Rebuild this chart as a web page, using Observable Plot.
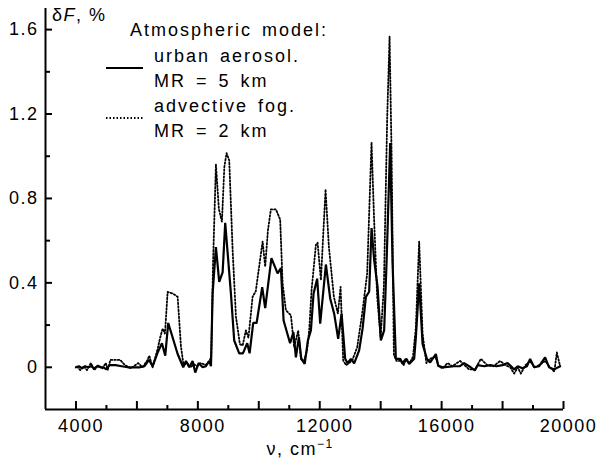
<!DOCTYPE html>
<html><head><meta charset="utf-8">
<script src="https://cdn.jsdelivr.net/npm/d3@7"></script>
<script src="https://cdn.jsdelivr.net/npm/@observablehq/plot@0.6"></script>
<style>
body{margin:0;background:#fff;}
#chart svg{display:block;overflow:visible;}
</style>
</head><body><div id="chart"></div>
<script>
// ---- data ----
const urbanNu = [4000,4100,4200,4300,4400,4500,4600,4700,4800,4900,5000,5100,5300,5500,5700,5900,6100,6250,6395,6516,6680,6822,6930,7028,7337,7520,7610,7717,7829,7914,8025,8157,8265,8373,8430,8485,8593,8701,8813,8898,9085,9193,9357,9479,9620,9698,9817,9928,10112,10210,10414,10617,10726,10814,11027,11136,11218,11316,11395,11506,11612,11710,11798,11916,12015,12202,12343,12474,12605,12717,12835,12914,13022,13130,13294,13406,13514,13622,13701,13786,13898,14006,14114,14203,14312,14390,14498,14640,14718,14827,14935,15099,15155,15263,15375,15516,15624,15811,15886,16031,16200,16400,16600,16740,16900,17090,17180,17400,17600,17800,18000,18163,18280,18380,18500,18650,18800,18905,19036,19200,19397,19528,19692,19889];
const urbanDeltaF = [0,0.005,-0.005,0.005,0,0.005,-0.005,0.005,0,0,-0.01,0.01,0.01,0.005,0,0,0,0.005,0.035,0.005,0.07,0.114,0.055,0.21,0.063,0,0.03,0,0.03,-0.025,0.02,0,0.005,0.03,0.005,0.35,0.57,0.405,0.45,0.684,0.35,0.127,0.066,0.066,0.114,0.066,0.21,0.21,0.38,0.28,0.517,0.445,0.47,0.222,0.114,0.167,0.047,0.143,0.04,0.016,0.127,0.175,0.35,0.42,0.207,0.487,0.326,0.254,0.135,0.254,0.04,0.019,0.04,0.019,0.08,0.183,0.334,0.358,0.66,0.509,0.381,0.127,0.175,0.54,1.063,0.493,0.04,0.04,0.019,0.04,0.016,0.04,0.143,0.398,0.111,0.04,0.023,0.063,0.008,0,0.002,0.005,0.005,0.02,0.005,-0.015,0.01,0.005,0.01,0.005,0.01,0.02,0.005,-0.01,0.005,-0.005,0.005,0.04,0,0.005,0.047,0,-0.01,0.005];

const fogNu = [4030,4140,4250,4360,4490,4600,4730,4870,4980,5040,5130,5300,5450,5610,5800,6045,6180,6330,6405,6516,6680,6767,6844,6920,7008,7170,7337,7445,7530,7650,7760,7870,7980,8100,8250,8380,8440,8500,8593,8690,8790,8870,8943,9030,9141,9250,9380,9470,9577,9660,9797,9900,10125,10210,10300,10397,10562,10702,10781,10890,11054,11162,11294,11382,11490,11580,11654,11732,11874,11930,12038,12191,12300,12464,12596,12684,12770,12868,12960,13065,13229,13393,13557,13700,13780,13885,13997,14105,14213,14292,14357,14433,14520,14650,14750,14850,14950,15060,15155,15263,15375,15500,15620,15800,15900,16030,16195,16350,16608,16750,16900,17100,17287,17500,17700,17920,18100,18250,18380,18500,18600,18750,18900,19050,19200,19400,19550,19700,19781,19889];
const fogDeltaF = [0.003,-0.013,0.005,-0.013,0.02,-0.013,0.01,-0.005,0.02,-0.013,0.035,0.035,0.035,0.01,-0.005,0.02,0,0.03,0.055,0,0.087,0.143,0.183,0.16,0.357,0.35,0.334,0.1,0.01,0.02,0,0.015,0.005,0.02,0.01,0.03,0.05,0.5,0.962,0.75,0.69,0.95,1.015,0.98,0.557,0.24,0.11,0.103,0.175,0.14,0.334,0.36,0.596,0.477,0.65,0.748,0.748,0.70,0.398,0.27,0.246,0.095,0.175,0.04,0.032,0.08,0.175,0.366,0.58,0.59,0.413,0.843,0.572,0.334,0.254,0.381,0.032,0.01,0.02,0.032,0.095,0.254,0.445,1.066,0.716,0.334,0.143,0.38,1.177,1.567,1.018,0.06,0.03,0.03,0.01,0.04,0.02,0.05,0.19,0.596,0.16,0.02,0.04,0.05,0.005,-0.005,0.02,0.005,0.03,0.01,-0.01,-0.01,0.04,0.01,0.005,0.03,0.01,0,-0.03,0,-0.03,0.01,0.03,0,0.01,0.03,0,-0.02,0.07,0.005];

const xLabelTicks = [4000, 8000, 12000, 16000, 20000];
const xMajorTicks = [4000, 6000, 8000, 10000, 12000, 14000, 16000, 18000, 20000];
const xMinorTicks = [5000, 7000, 9000, 11000, 13000, 15000, 17000, 19000];
const yLabelTicks = [0, 0.4, 0.8, 1.2, 1.6];
const yMinorTicks = [0.2, 0.6, 1.0, 1.4];
const xDomain = [3000, 20000];
const yDomain = [-0.2, 1.7];

const legendTitle = "Atmospheric model:";
const legendSeries = [
  {lines: ["urban aerosol.", "MR = 5 km"], dash: null, width: 2.2},
  {lines: ["advective fog.", "MR = 2 km"], dash: "1.5,2", width: 1.8}
];

// ---- layout ----
const W = 600, H = 465, mL = 45, mR = 37, mT = 8, mB = 56;
const frameW = W - mL - mR, frameH = H - mT - mB;
const font = "'Liberation Sans', Arial, Helvetica, sans-serif";

const urban = urbanNu.map((v, i) => ({nu: v, dF: urbanDeltaF[i]}));
const fog = fogNu.map((v, i) => ({nu: v, dF: fogDeltaF[i]}));

const plot = Plot.plot({
  width: W, height: H,
  marginLeft: mL, marginRight: mR, marginTop: mT, marginBottom: mB,
  x: {domain: xDomain},
  y: {domain: yDomain},
  style: {fontFamily: font, fontSize: "18px", color: "#000", background: "#fff", letterSpacing: "1.5px"},
  marks: [
    Plot.ruleX([xDomain[0]], {stroke: "#000", strokeWidth: 2}),
    Plot.ruleY([yDomain[0]], {stroke: "#000", strokeWidth: 2}),
    Plot.ruleX(xMajorTicks, {stroke: "#000", strokeWidth: 2, insetTop: frameH - 8}),
    Plot.ruleX(xMinorTicks, {stroke: "#000", strokeWidth: 2, insetTop: frameH - 4}),
    Plot.ruleY(yLabelTicks, {stroke: "#000", strokeWidth: 2, insetRight: frameW - 7}),
    Plot.ruleY(yMinorTicks, {stroke: "#000", strokeWidth: 2, insetRight: frameW - 5}),
    Plot.axisX(xLabelTicks, {tickSize: 0, tickPadding: 10, dx: 5, tickFormat: d3.format("d"), label: null, fill: "#000"}),
    Plot.axisY(yLabelTicks, {tickSize: 0, tickPadding: 7, label: null, fill: "#000",
      tickFormat: d => d === 0 ? "0" : d.toFixed(1)}),
    Plot.line(fog, {x: "nu", y: "dF", stroke: "#000", strokeWidth: 1.8, strokeDasharray: "1.5,2"}),
    Plot.line(urban, {x: "nu", y: "dF", stroke: "#000", strokeWidth: 2.2, strokeLinejoin: "miter"})
  ]
});
document.getElementById("chart").appendChild(plot);

// ---- annotations: axis titles and in-plot legend ----
const svg = d3.select(plot);
const ann = svg.append("g").attr("font-family", font).attr("font-size", 18).attr("fill", "#000")
  .attr("text-anchor", "start").style("letter-spacing", "1.5px");

// y title: δF, %
const yt = ann.append("text").attr("x", 52).attr("y", 21);
yt.append("tspan").text("δ");
yt.append("tspan").attr("font-style", "italic").text("F");
yt.append("tspan").text(", %");

// x title: ν, cm^-1
const xt = ann.append("text").attr("x", 300).attr("y", 455).attr("text-anchor", "middle");
xt.append("tspan").text("ν, cm");
xt.append("tspan").attr("dy", -7).attr("font-size", 12).text("−1");

// legend
const lg = ann.append("g").style("letter-spacing", "2px").style("word-spacing", "3px");
lg.append("text").attr("x", 130).attr("y", 36).text(legendTitle);
legendSeries.forEach((s, i) => {
  const y0 = 62 + i * 50;
  s.lines.forEach((t, j) => lg.append("text").attr("x", 154).attr("y", y0 + j * 25).text(t));
  lg.append("line").attr("x1", 106).attr("x2", 143).attr("y1", y0 + 6).attr("y2", y0 + 6)
    .attr("stroke", "#000").attr("stroke-width", s.width).attr("stroke-dasharray", s.dash);
});
</script>
</body></html>
